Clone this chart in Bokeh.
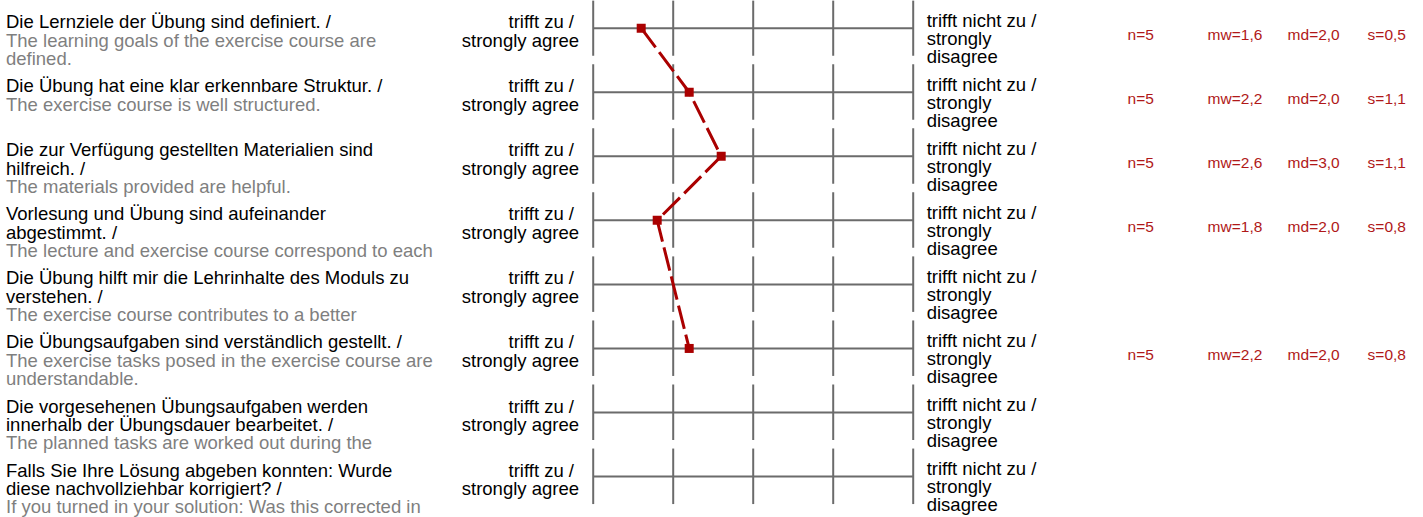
from bokeh.plotting import figure
from bokeh.models import Range1d, ColumnDataSource
from bokeh.embed import file_html
from bokeh.resources import INLINE
from bokeh.core.properties import value

# ---------------- data ----------------
questions_de = [
    ["Die Lernziele der Übung sind definiert. /"],
    ["Die Übung hat eine klar erkennbare Struktur. /"],
    ["Die zur Verfügung gestellten Materialien sind", "hilfreich. /"],
    ["Vorlesung und Übung sind aufeinander", "abgestimmt. /"],
    ["Die Übung hilft mir die Lehrinhalte des Moduls zu", "verstehen. /"],
    ["Die Übungsaufgaben sind verständlich gestellt. /"],
    ["Die vorgesehenen Übungsaufgaben werden", "innerhalb der Übungsdauer bearbeitet. /"],
    ["Falls Sie Ihre Lösung abgeben konnten: Wurde", "diese nachvollziehbar korrigiert? /"],
]
questions_en = [
    ["The learning goals of the exercise course are", "defined."],
    ["The exercise course is well structured."],
    ["The materials provided are helpful."],
    ["The lecture and exercise course correspond to each"],
    ["The exercise course contributes to a better"],
    ["The exercise tasks posed in the exercise course are", "understandable."],
    ["The planned tasks are worked out during the"],
    ["If you turned in your solution: Was this corrected in"],
]
scale_points = [1, 2, 3, 4, 5]
left_pole = ["trifft zu /", "strongly agree"]
right_pole = ["trifft nicht zu /", "strongly", "disagree"]
means = [1.6, 2.2, 2.6, 1.8, None, 2.2, None, None]
stat_n = ["n=5", "n=5", "n=5", "n=5", "", "n=5", "", ""]
stat_mw = ["mw=1,6", "mw=2,2", "mw=2,6", "mw=1,8", "", "mw=2,2", "", ""]
stat_md = ["md=2,0", "md=2,0", "md=3,0", "md=2,0", "", "md=2,0", "", ""]
stat_s = ["s=0,5", "s=1,1", "s=1,1", "s=0,8", "", "s=0,8", "", ""]

# ---------------- layout / style constants ----------------
W, H = 1423, 517
PX_X = 80.0            # pixels per scale unit
PX_Y = 64.05           # pixels per row
X0 = 1 - 592.7 / PX_X
Y_TOP = -27.7 / PX_Y
Y_BOT = Y_TOP + H / PX_Y
LINE_H = 18.3
SHIFT = -6.5           # baseline correction (px)
FONT = value("Liberation Sans")
FS = "18.5px"
FS_STAT = "15.5px"
GRID_COLOR = "#6b6b6b"
RED = "#aa0000"
STAT_RED = "#b01818"
GRAY = "#7f7f7f"
STAT_COLS = [7.68, 8.68, 9.68, 10.68]   # table columns right of the scale

p = figure(width=W, height=H, output_backend="svg", toolbar_location=None,
           x_range=Range1d(X0, X0 + W / PX_X), y_range=Range1d(Y_BOT, Y_TOP),
           min_border=0, x_axis_location=None, y_axis_location=None)
p.grid.visible = False
p.outline_line_color = None
p.background_fill_color = "white"
p.border_fill_color = "white"

rows = list(range(len(questions_de)))

# vertical ticks
tx = [sp for r in rows for sp in scale_points]
tr = [r for r in rows for sp in scale_points]
p.segment(x0=tx, x1=tx, y0=[r - 28 / PX_Y for r in tr], y1=[r + 27.5 / PX_Y for r in tr],
          line_color=GRID_COLOR, line_width=2)
# horizontal lines
p.segment(x0=[scale_points[0]] * len(rows), x1=[scale_points[-1]] * len(rows),
          y0=rows, y1=rows, line_color=GRID_COLOR, line_width=2)

# question texts
qx, qy, qt, qc, qo = [], [], [], [], []
for r in rows:
    k = 0
    for t in questions_de[r]:
        qx.append(X0); qy.append(r); qt.append(t); qc.append("#000000"); qo.append(SHIFT + k * LINE_H); k += 1
    for t in questions_en[r]:
        qx.append(X0); qy.append(r); qt.append(t); qc.append(GRAY); qo.append(SHIFT + k * LINE_H); k += 1
p.text(x="x", y="y", text="t", text_color="c", y_offset="o", x_offset=5.5,
       source=ColumnDataSource(dict(x=qx, y=qy, t=qt, c=qc, o=qo)),
       text_font=FONT, text_font_size=FS, text_align="left", text_baseline="alphabetic")

# left pole labels (right aligned)
lx, ly, lt, lo, lxo = [], [], [], [], []
for r in rows:
    for k, t in enumerate(left_pole):
        lx.append(scale_points[0]); ly.append(r); lt.append(t); lo.append(SHIFT + k * LINE_H)
        lxo.append(-19.2 if k == 0 else -14.2)
p.text(x="x", y="y", text="t", y_offset="o", x_offset="xo",
       source=ColumnDataSource(dict(x=lx, y=ly, t=lt, o=lo, xo=lxo)),
       text_font=FONT, text_font_size=FS, text_color="#000000",
       text_align="right", text_baseline="alphabetic")

# right pole labels
rx, ry, rt, ro = [], [], [], []
for r in rows:
    for k, t in enumerate(right_pole):
        rx.append(scale_points[-1]); ry.append(r); rt.append(t); ro.append(SHIFT - 1.5 + k * 18.0)
p.text(x="x", y="y", text="t", y_offset="o", x_offset=13.5,
       source=ColumnDataSource(dict(x=rx, y=ry, t=rt, o=ro)),
       text_font=FONT, text_font_size=FS, text_color="#000000",
       text_align="left", text_baseline="alphabetic")

# statistics
for col, vals in zip(STAT_COLS, [stat_n, stat_mw, stat_md, stat_s]):
    p.text(x=[col] * len(rows), y=rows, text=vals, y_offset=SHIFT + 12.3,
           text_font=FONT, text_font_size=FS_STAT, text_color=STAT_RED,
           text_align="left", text_baseline="alphabetic")

# profile line
px = [m for m in means if m is not None]
py = [r for r, m in zip(rows, means) if m is not None]
p.line(x=px, y=py, line_color=RED, line_width=3, line_dash="24 6")
p.scatter(x=px, y=py, marker="square", size=9, fill_color=RED, line_color=None)

open("out.html", "w").write(file_html(p, INLINE))
